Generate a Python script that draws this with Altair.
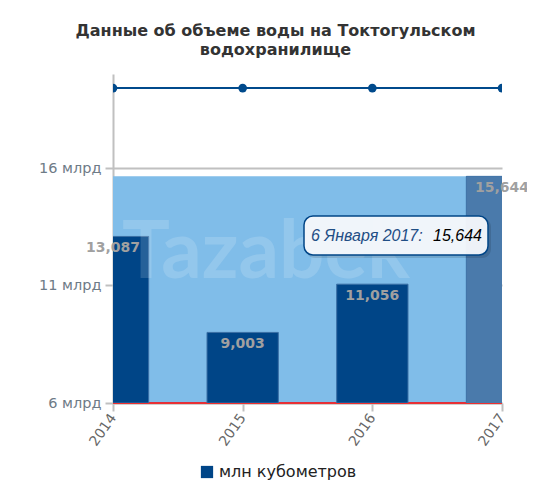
import altair as alt
import pandas as pd

# ---- data ----
years = [2014, 2015, 2016, 2017]
volumes = [13087, 9003, 11056, 15644]          # млн кубометров
capacity = [19400, 19400, 19400, 19400]        # top line series
series_name = "млн кубометров"
hover_year = 2017
hover_label = "6 Января 2017:"
y_ticks = [6000, 11000, 16000]
title_lines = ["Данные об объеме воды на Токтогульском", "водохранилище"]

BAR = "#004587"
BAND = "#80bde9"
HOVER_BAR = "#4a7aab"
GRID = "#c0c0c0"

df = pd.DataFrame({"year": years, "volume": volumes, "cap": capacity, "series": series_name})
hover_val = volumes[years.index(hover_year)]
band_df = pd.DataFrame({"x0": [min(years)], "x1": [max(years)], "v": [hover_val], "base": [6000]})
tip_df = pd.DataFrame({"date": [hover_label], "val": [f"{hover_val:,}"]})

xscale = alt.Scale(domain=[min(years), max(years)], nice=False, zero=False)
yscale = alt.Scale(domain=[6000, 20000], nice=False, zero=False)

base = alt.Chart(df)

band = alt.Chart(band_df).mark_rect(color=BAND).encode(
    x=alt.X("x0:Q", scale=xscale, axis=alt.Axis(
        values=years, format="d", title=None, labelAngle=-55, labelFontSize=14,
        labelColor="#666666", labelFont="DejaVu Sans", tickSize=8, tickColor=GRID,
        tickWidth=2, domainColor=GRID, domainWidth=2, grid=False, labelPadding=4)),
    x2="x1:Q",
    y=alt.Y("v:Q", scale=yscale, axis=alt.Axis(
        values=y_ticks, title=None, labelExpr="datum.value/1000 + ' млрд'",
        labelFontSize=14.5, labelColor="#6e7b87", labelFont="DejaVu Sans",
        tickSize=8, tickColor=GRID, tickWidth=2, domainColor=GRID, domainWidth=2,
        grid=True, gridColor=GRID, gridWidth=2, labelPadding=4)),
    y2="base:Q",
)

red = alt.Chart(band_df).mark_rule(color="#ff0000", strokeWidth=1.5).encode(
    x=alt.X("x0:Q", scale=xscale), x2="x1:Q", y=alt.Y("base:Q", scale=yscale)
)

line = base.mark_line(color="#004a8c", strokeWidth=2, clip=True).encode(
    x=alt.X("year:Q", scale=xscale), y=alt.Y("cap:Q", scale=yscale)
)
pts = base.mark_point(filled=True, color="#004a8c", size=75, opacity=1, clip=True).encode(
    x=alt.X("year:Q", scale=xscale), y=alt.Y("cap:Q", scale=yscale)
)

bars = base.transform_calculate(
    xa="datum.year - 0.275", xb="datum.year + 0.275", b="6000"
).mark_rect(clip=True, stroke="#3a6fa5", strokeWidth=1).encode(
    x=alt.X("xa:Q", scale=xscale), x2="xb:Q",
    y=alt.Y("volume:Q", scale=yscale), y2="b:Q",
    color=alt.Color("series:N", scale=alt.Scale(range=[BAR]), legend=alt.Legend(
        title=None, orient="none", legendX=86, legendY=390, symbolType="square",
        symbolSize=150, symbolStrokeWidth=0, labelFontSize=16, labelFont="DejaVu Sans",
        labelColor="#222222", labelLimit=300)),
)

hbar = base.transform_filter(f"datum.year == {hover_year}").transform_calculate(
    xa="datum.year - 0.275", xb="datum.year + 0.275", b="6000"
).mark_rect(clip=True, color=HOVER_BAR).encode(
    x=alt.X("xa:Q", scale=xscale), x2="xb:Q",
    y=alt.Y("volume:Q", scale=yscale), y2="b:Q",
)

labels = base.mark_text(fontWeight="bold", fontSize=14, font="DejaVu Sans",
                        color="#a0a0a0", dy=12).encode(
    x=alt.X("year:Q", scale=xscale), y=alt.Y("volume:Q", scale=yscale),
    text=alt.Text("volume:Q", format=","),
)

wm = alt.Chart(pd.DataFrame({"t": ["Tazabek"]})).mark_text(
    font="Lato", fontSize=80, fontWeight="bold", color="white", opacity=0.15,
    align="center", baseline="alphabetic"
).encode(x=alt.value(153), y=alt.value(204), text="t:N")

tip_shadow = alt.Chart(tip_df).mark_rect(cornerRadius=9, color="#000000", opacity=0.12).encode(
    x=alt.value(193), x2=alt.value(378), y=alt.value(144), y2=alt.value(184)
)
tip_box = alt.Chart(tip_df).mark_rect(cornerRadius=9, fill="#f7f9fc", fillOpacity=0.95,
                                      stroke="#004587", strokeWidth=1.5).encode(
    x=alt.value(191), x2=alt.value(375), y=alt.value(142), y2=alt.value(181)
)
tip_t1 = alt.Chart(tip_df).mark_text(font="Liberation Sans", fontStyle="italic", fontSize=16,
                                     color="#1f4e85", align="left", baseline="middle").encode(
    x=alt.value(198), y=alt.value(162), text="date:N"
)
tip_t2 = alt.Chart(tip_df).mark_text(font="Liberation Sans", fontStyle="italic", fontSize=16,
                                     color="#000000", align="left", baseline="middle").encode(
    x=alt.value(320), y=alt.value(162), text="val:N"
)

chart = alt.layer(
    band, red, line, pts, bars, hbar, labels, wm, tip_shadow, tip_box, tip_t1, tip_t2
).properties(
    width=389, height=329,
    autosize=alt.AutoSizeParams(type="none"),
    padding={"left": 105, "top": 66, "right": 25, "bottom": 81},
    title=alt.TitleParams(text=title_lines, fontSize=16, font="DejaVu Sans", fontWeight="bold",
                          color="#333333", anchor="middle", dx=-32, offset=16, lineHeight=19),
).configure_view(stroke=None)

chart.save("out.html", embed_options={"renderer": "svg", "actions": False})
